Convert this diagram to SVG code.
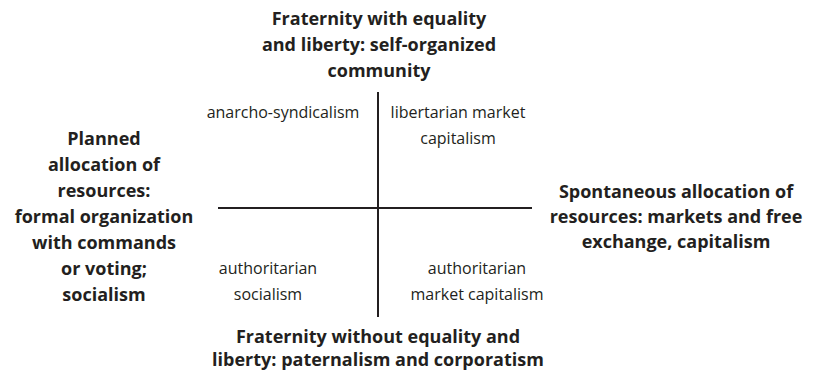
<svg xmlns="http://www.w3.org/2000/svg" width="813" height="371" viewBox="0 0 813 371">
<style>
text{font-family:"Open Sans","Noto Sans",sans-serif;fill:#231f20;text-anchor:middle}
.b{font-weight:bold;font-size:18px}
.r{font-size:16px}
.ax{stroke:#231f20;stroke-width:2;fill:none}
</style>
<rect width="813" height="371" fill="#fff"/>
<g id="connectors">
<line class="ax" x1="378" y1="92" x2="378" y2="317"/>
<line class="ax" x1="218" y1="208" x2="532" y2="208"/>
</g>
<g id="top"><text class="b" x="379" y="25">Fraternity with equality</text><text class="b" x="379" y="51">and liberty: self-organized</text><text class="b" x="379" y="77">community</text></g>
<g id="q1"><text class="r" x="283" y="118">anarcho-syndicalism</text></g>
<g id="q2"><text class="r" x="458" y="118">libertarian market</text><text class="r" x="458" y="144">capitalism</text></g>
<g id="left"><text class="b" x="104" y="145">Planned</text><text class="b" x="104" y="171">allocation of</text><text class="b" x="104" y="197">resources:</text><text class="b" x="104" y="223">formal organization</text><text class="b" x="104" y="249">with commands</text><text class="b" x="104" y="275">or voting;</text><text class="b" x="104" y="301">socialism</text></g>
<g id="right"><text class="b" x="676" y="198">Spontaneous allocation of</text><text class="b" x="676" y="223">resources: markets and free</text><text class="b" x="676" y="248">exchange, capitalism</text></g>
<g id="q3"><text class="r" x="268" y="274">authoritarian</text><text class="r" x="268" y="300">socialism</text></g>
<g id="q4"><text class="r" x="477" y="274">authoritarian</text><text class="r" x="477" y="300">market capitalism</text></g>
<g id="bottom"><text class="b" x="378" y="343">Fraternity without equality and</text><text class="b" x="378" y="366">liberty: paternalism and corporatism</text></g>
</svg>
